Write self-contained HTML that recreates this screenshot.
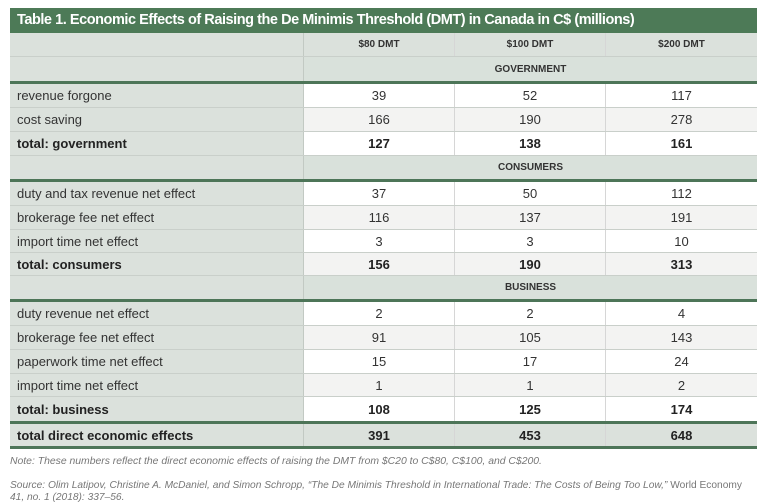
<!DOCTYPE html>
<html><head><meta charset="utf-8"><style>
body{margin:0;width:768px;height:504px;background:#fff;font-family:"Liberation Sans",sans-serif;position:relative;overflow:hidden}
.r{position:absolute;left:10px;width:747px;display:flex;box-sizing:border-box;border-bottom:1px solid #c9cfca}
.r div{box-sizing:border-box;display:flex;align-items:center;font-size:13px;color:#333}
.l{width:294px;padding-left:7px;background:#dbe1dc;border-right:1px solid #c2c9c3}
.v{width:151px;justify-content:center;border-right:1px solid #d6d6d6}
.v:last-child{width:151px;border-right:none}
.w .v{background:#fff}.g .v{background:#f3f3f2}
.b div{font-weight:bold;color:#222}
.h{background:#dbe1dc}
.h div{font-size:10px;font-weight:bold;color:#333}
.grp{justify-content:center;width:453px;background:#d9e1db}
.line{position:absolute;left:10px;width:747px;height:3px;background:#4d7558}
</style></head><body>
<div style="position:absolute;left:10px;top:8px;width:747px;height:25px;background:#4d7a57;color:#fff;font-weight:bold;font-size:14.5px;letter-spacing:-0.45px;line-height:25px;padding-left:7px;box-sizing:border-box">Table 1. Economic Effects of Raising the De Minimis Threshold (DMT) in Canada in C$ (millions)</div>
<div class="r h" style="top:33px;height:24px"><div class="l"></div><div class="v" style="background:#dbe1dc">$80 DMT</div><div class="v" style="background:#dbe1dc">$100 DMT</div><div class="v" style="background:#dbe1dc">$200 DMT</div></div>
<div class="r h" style="top:57px;height:24px;border:none"><div class="l"></div><div class="grp">GOVERNMENT</div></div>
<div class="line" style="top:81px"></div>
<div class="r w" style="top:84px;height:24px"><div class="l">revenue forgone</div><div class="v">39</div><div class="v">52</div><div class="v">117</div></div>
<div class="r g" style="top:108px;height:24px"><div class="l">cost saving</div><div class="v">166</div><div class="v">190</div><div class="v">278</div></div>
<div class="r w b" style="top:132px;height:24px"><div class="l">total: government</div><div class="v">127</div><div class="v">138</div><div class="v">161</div></div>
<div class="r h" style="top:156px;height:23px;border:none"><div class="l"></div><div class="grp">CONSUMERS</div></div>
<div class="line" style="top:179px"></div>
<div class="r w" style="top:182px;height:24px"><div class="l">duty and tax revenue net effect</div><div class="v">37</div><div class="v">50</div><div class="v">112</div></div>
<div class="r g" style="top:206px;height:24px"><div class="l">brokerage fee net effect</div><div class="v">116</div><div class="v">137</div><div class="v">191</div></div>
<div class="r w" style="top:230px;height:23px"><div class="l">import time net effect</div><div class="v">3</div><div class="v">3</div><div class="v">10</div></div>
<div class="r g b" style="top:253px;height:23px"><div class="l">total: consumers</div><div class="v">156</div><div class="v">190</div><div class="v">313</div></div>
<div class="r h" style="top:276px;height:23px;border:none"><div class="l"></div><div class="grp">BUSINESS</div></div>
<div class="line" style="top:299px"></div>
<div class="r w" style="top:302px;height:24px"><div class="l">duty revenue net effect</div><div class="v">2</div><div class="v">2</div><div class="v">4</div></div>
<div class="r g" style="top:326px;height:24px"><div class="l">brokerage fee net effect</div><div class="v">91</div><div class="v">105</div><div class="v">143</div></div>
<div class="r w" style="top:350px;height:24px"><div class="l">paperwork time net effect</div><div class="v">15</div><div class="v">17</div><div class="v">24</div></div>
<div class="r g" style="top:374px;height:23px"><div class="l">import time net effect</div><div class="v">1</div><div class="v">1</div><div class="v">2</div></div>
<div class="r w b" style="top:397px;height:24px;border:none"><div class="l">total: business</div><div class="v">108</div><div class="v">125</div><div class="v">174</div></div>
<div class="line" style="top:421px"></div>
<div class="r b" style="top:424px;height:22px;border:none"><div class="l">total direct economic effects</div><div class="v" style="background:#dbe1dc">391</div><div class="v" style="background:#dbe1dc">453</div><div class="v" style="background:#dbe1dc">648</div></div>
<div class="line" style="top:446px"></div>
<div style="position:absolute;left:10px;top:456px;font-size:10.4px;font-style:italic;color:#777">Note: These numbers reflect the direct economic effects of raising the DMT from $C20 to C$80, C$100, and C$200.</div>
<div style="position:absolute;left:10px;top:480px;width:758px;font-size:10.2px;font-style:italic;color:#777;line-height:12px;white-space:nowrap">Source: Olim Latipov, Christine A. McDaniel, and Simon Schropp, “The De Minimis Threshold in International Trade: The Costs of Being Too Low,” <span style="font-style:normal">World Economy</span><br>41, no. 1 (2018): 337–56.</div>
</body></html>
